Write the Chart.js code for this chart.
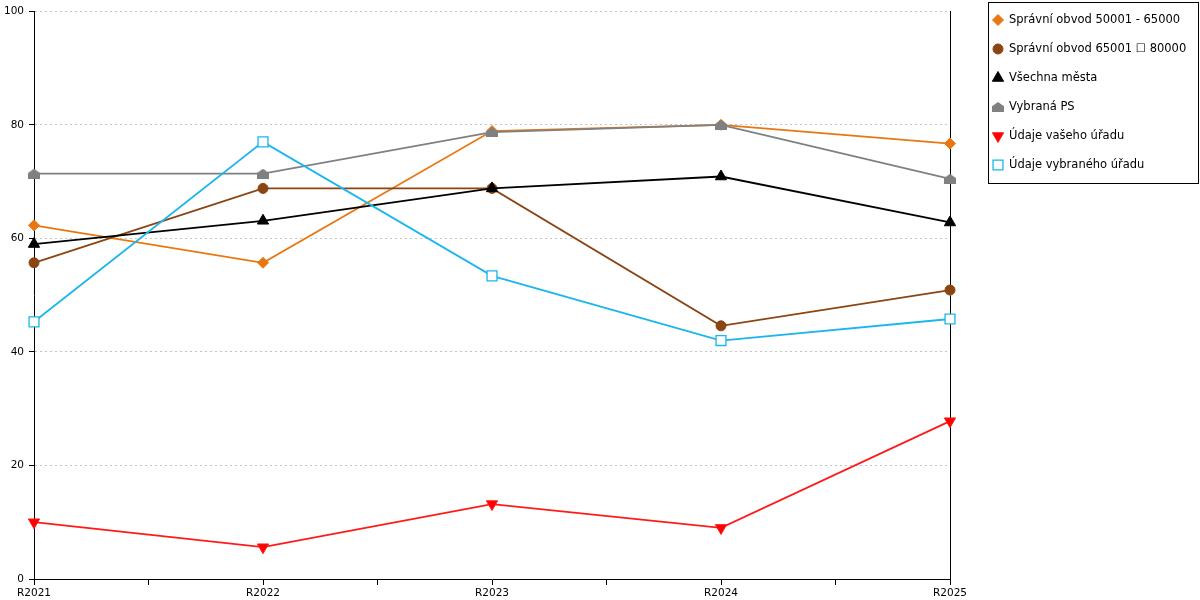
<!DOCTYPE html>
<html>
<head>
<meta charset="utf-8">
<script src="https://cdn.jsdelivr.net/npm/chart.js@4/dist/chart.umd.min.js"></script>
<style>
  html, body { margin: 0; background: #fff; }
  #wrap { width: 1200px; height: 600px; }
</style>
</head>
<body>
<div id="wrap"><canvas id="chart"></canvas></div>
<script>
const years = ['R2021', 'R2022', 'R2023', 'R2024', 'R2025'];

const names = [
  'Správní obvod 50001 - 65000',
  'Správní obvod 65001 \u2610 80000',
  'Všechna města',
  'Vybraná PS',
  'Údaje vašeho úřadu',
  'Údaje vybraného úřadu'
];

const obvod50 = [62.3, 55.7, 78.9, 80.0, 76.7];
const obvod65 = [55.7, 68.8, 68.8, 44.6, 50.9];
const vsechnaMesta = [59.0, 63.1, 68.8, 70.9, 62.8];
const vybranaPS = [71.4, 71.4, 78.7, 80.0, 70.5];
const vasUrad = [10.0, 5.6, 13.2, 9.0, 27.8];
const vybranyUrad = [45.3, 77.0, 53.4, 42.0, 45.8];

const yMin = 0, yMax = 100, yStep = 20;

// little house marker for "Vybraná PS"
function houseMarker(w, h, color) {
  const c = document.createElement('canvas');
  c.width = w; c.height = h;
  const g = c.getContext('2d');
  g.fillStyle = color;
  g.beginPath();
  g.moveTo(w / 2, 0);
  g.lineTo(w, h * 0.42);
  g.lineTo(w, h);
  g.lineTo(0, h);
  g.lineTo(0, h * 0.42);
  g.closePath();
  g.fill();
  return c;
}

const styles = [
  { color: '#E8770F', fill: '#E8770F', point: 'rectRot', radius: 5.5, rot: 0 },
  { color: '#8B4513', fill: '#8B4513', point: 'circle', radius: 5, rot: 0 },
  { color: '#000000', fill: '#000000', point: 'triangle', radius: 6.5, rot: 0 },
  { color: '#808080', fill: '#808080', point: houseMarker(12, 10, '#808080'), radius: 6, rot: 0 },
  { color: '#FF1A1A', fill: '#FF0000', point: 'triangle', radius: 6.5, rot: 180 },
  { color: '#1CB5EC', fill: '#FFFFFF', point: 'rect', radius: 7, rot: 0 }
];

const series = [obvod50, obvod65, vsechnaMesta, vybranaPS, vasUrad, vybranyUrad];

const datasets = series.map((vals, i) => ({
  label: names[i],
  data: vals.map((v, k) => ({ x: k, y: v })),
  borderColor: styles[i].color,
  borderWidth: 1.8,
  tension: 0,
  pointStyle: styles[i].point,
  pointRotation: styles[i].rot,
  pointRadius: styles[i].radius,
  pointBackgroundColor: styles[i].fill,
  pointBorderColor: styles[i].color,
  pointBorderWidth: i === 5 ? 1.3 : 1,
  clip: false,
  order: series.length - i
}));

// legend in a framed box on the right
const boxLegend = {
  id: 'boxLegend',
  afterDraw(chart) {
    const ctx = chart.ctx;
    ctx.save();
    ctx.strokeStyle = '#000';
    ctx.lineWidth = 1;
    ctx.strokeRect(988.5, 2.5, 210, 181);
    ctx.font = '11.5px "DejaVu Sans", sans-serif';
    ctx.textBaseline = 'middle';
    ctx.textAlign = 'left';
    names.forEach((name, i) => {
      const y = 20 + i * 29;
      const st = styles[i];
      ctx.fillStyle = st.fill;
      ctx.strokeStyle = st.color;
      ctx.lineWidth = i === 5 ? 1.3 : 1;
      Chart.helpers.drawPoint(ctx, {
        pointStyle: st.point,
        rotation: st.rot,
        radius: st.radius,
        borderWidth: ctx.lineWidth
      }, 998, y);
      ctx.fillStyle = '#000';
      ctx.fillText(name, 1009, y + 0.5);
    });
    ctx.restore();
  }
};

new Chart(document.getElementById('chart'), {
  type: 'line',
  data: { datasets },
  plugins: [boxLegend],
  options: {
    responsive: true,
    maintainAspectRatio: false,
    animation: false,
    events: [],
    layout: { padding: { top: 10, right: 250, bottom: 0, left: 0 } },
    plugins: { legend: { display: false }, tooltip: { enabled: false } },
    scales: {
      x: {
        type: 'linear',
        min: 0,
        max: years.length - 1,
        afterFit: s => { s.height = 21; },
        ticks: {
          stepSize: 0.5,
          autoSkip: false,
          maxRotation: 0,
          padding: 2,
          color: '#000',
          font: { family: '"DejaVu Sans", sans-serif', size: 10.5 },
          callback: v => Number.isInteger(v) ? years[v] : ''
        },
        grid: { drawOnChartArea: false, drawTicks: true, tickLength: 6, tickColor: '#000' },
        border: { color: '#000', width: 1 }
      },
      y: {
        min: yMin,
        max: yMax,
        afterFit: s => { s.width = 34; },
        ticks: {
          stepSize: yStep,
          padding: 5,
          color: '#000',
          font: { family: '"DejaVu Sans", sans-serif', size: 10.5 }
        },
        grid: { color: '#C4C4C4', lineWidth: 1, tickLength: 5, tickColor: '#000' },
        border: { color: '#000', width: 1, dash: [2, 3] }
      },
      y2: {
        position: 'right',
        min: yMin,
        max: yMax,
        afterFit: s => { s.width = 0; },
        ticks: { display: false },
        grid: { display: false },
        border: { color: '#000', width: 1 }
      }
    }
  }
});
</script>
</body>
</html>
